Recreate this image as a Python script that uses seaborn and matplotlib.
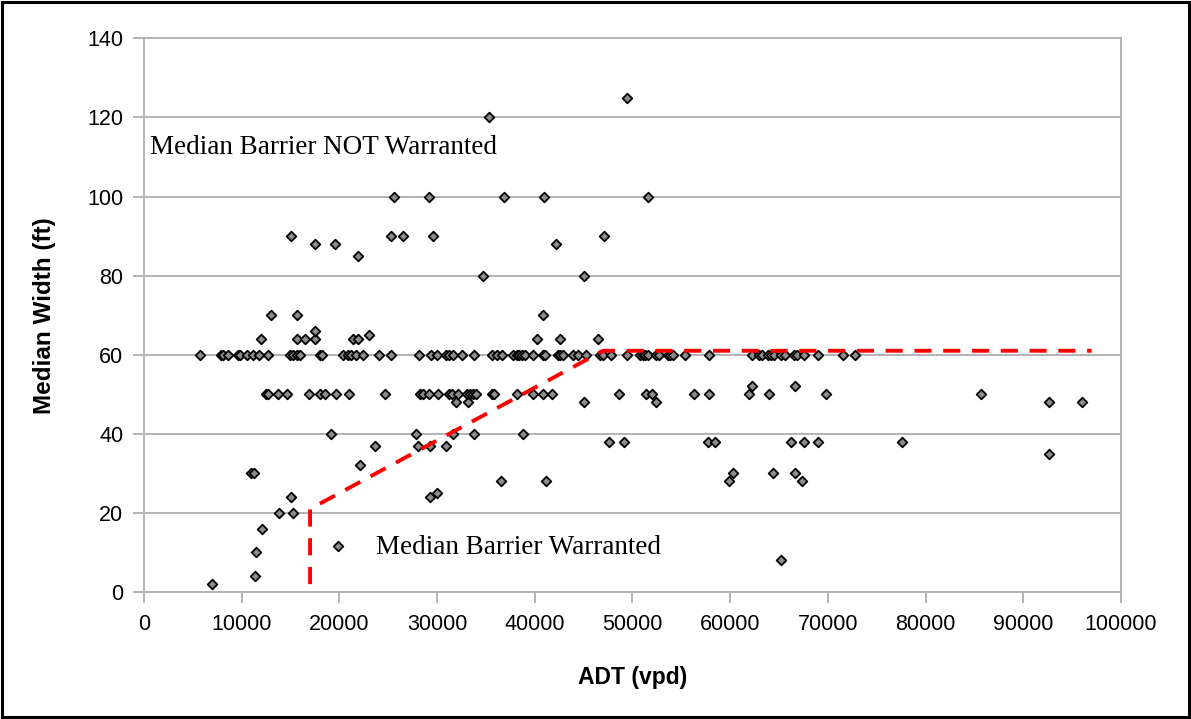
import matplotlib
matplotlib.use("Agg")
import matplotlib.pyplot as plt
from matplotlib.patches import Rectangle
import seaborn as sns
import pandas as pd

# ADT (vpd) and median width (ft) for each surveyed site, grouped by width
adt_w2 = [7000]
adt_w4 = [11400]
adt_w8 = [65200]
adt_w10 = [11500]
adt_w16 = [12050]
adt_w20 = [13850, 15300]
adt_w24 = [15050, 29250]
adt_w25 = [29950]
adt_w28 = [36500, 41150, 59900, 67400]
adt_w30 = [11000, 11300, 60300, 64400, 66600]
adt_w32 = [22100]
adt_w35 = [92650]
adt_w37 = [23650, 28000, 29250, 30900]
adt_w38 = [47600, 49150, 57750, 58450, 66200, 67550, 69000, 77600]
adt_w40 = [19100, 27850, 31650, 33800, 38800]
adt_w48 = [31950, 33200, 45050, 52450, 92650, 96050]
adt_w50 = [12500, 12700, 13750, 14650, 16900, 18000, 18550, 19700, 21000,
           24650, 28300, 28550, 29200, 30100, 31200, 31550, 32150, 33050,
           33350, 33700, 34000, 35650, 35800, 38150, 39800, 40800, 41750,
           48650, 51400, 51950, 56300, 57850, 61900, 63950, 69850, 85650]
adt_w52 = [62250, 66650]
adt_w60 = [5750, 7900, 8100, 8550, 9650, 9850, 10500, 11200, 11800, 12700,
           14950, 15300, 15700, 15950, 18000, 18200, 20400, 20900, 21150,
           21750, 22450, 24100, 25250, 28100, 29350, 29950, 30900, 31250,
           31600, 32600, 33800, 35600, 36100, 36600, 37800, 38150, 38400,
           38650, 39000, 39800, 40850, 41050, 42400, 42600, 42900, 43900,
           44450, 45250, 46650, 47000, 47850, 49450, 50750, 51050, 51300,
           51600, 52450, 52750, 53650, 53850, 54100, 55350, 57850, 62200,
           63000, 63300, 63900, 64150, 64500, 65250, 65600, 66550, 66800,
           67550, 69000, 71500, 72800]
adt_w64 = [11950, 15700, 16500, 17550, 21350, 21950, 40200, 42600, 46500]
adt_w65 = [23050]
adt_w66 = [17550]
adt_w70 = [13050, 15700, 40800]
adt_w80 = [34650, 45050]
adt_w85 = [21950]
adt_w88 = [17550, 19600, 42150]
adt_w90 = [15050, 25300, 26500, 29600, 47100]
adt_w100 = [25600, 29200, 36900, 40900, 51600]
adt_w120 = [35300]
adt_w125 = [49450]

groups = {
    2: adt_w2, 4: adt_w4, 8: adt_w8, 10: adt_w10, 16: adt_w16, 20: adt_w20,
    24: adt_w24, 25: adt_w25, 28: adt_w28, 30: adt_w30, 32: adt_w32,
    35: adt_w35, 37: adt_w37, 38: adt_w38, 40: adt_w40, 48: adt_w48,
    50: adt_w50, 52: adt_w52, 60: adt_w60, 64: adt_w64, 65: adt_w65,
    66: adt_w66, 70: adt_w70, 80: adt_w80, 85: adt_w85, 88: adt_w88,
    90: adt_w90, 100: adt_w100, 120: adt_w120, 125: adt_w125,
}
sites = pd.DataFrame(
    [(adt, width) for width, adts in groups.items() for adt in adts],
    columns=["ADT", "Width"],
)

# Warrant boundary
boundary_adt = [17000, 17000, 47000, 97000]
boundary_width = [2, 21, 61, 61]

x_ticks = [0, 10000, 20000, 30000, 40000, 50000, 60000, 70000, 80000, 90000, 100000]
y_ticks = [0, 20, 40, 60, 80, 100, 120, 140]

sns.set_style("white")
plt.rcParams["font.family"] = ["Liberation Sans", "DejaVu Sans"]
plt.rcParams["text.color"] = "black"
plt.rcParams["axes.labelcolor"] = "black"

GRID = "#b3b3b3"
fig = plt.figure(figsize=(11.91, 7.19), dpi=100)
ax = fig.add_axes([0.1209, 0.1766, 0.8203, 0.7701])

ax.set_xlim(0, 100000)
ax.set_ylim(0, 140)
ax.set_xticks(x_ticks)
ax.set_yticks(y_ticks)
ax.set_xticklabels([str(t) for t in x_ticks])
ax.set_yticklabels([str(t) for t in y_ticks])
ax.yaxis.grid(True, color=GRID, linewidth=1.4)
ax.xaxis.grid(False)
ax.set_axisbelow(True)
for side in ["left", "right", "bottom", "top"]:
    ax.spines[side].set_color(GRID)
    ax.spines[side].set_linewidth(1.4)
ax.tick_params(axis="both", direction="out", length=8, width=1.4, color=GRID,
               labelsize=15.5, labelcolor="black")
ax.tick_params(axis="x", pad=8, bottom=True)
ax.tick_params(axis="y", pad=7, left=True)

sns.scatterplot(data=sites, x="ADT", y="Width", marker="D", s=24,
                color="#8c8c8c", edgecolor="black", linewidth=1.3,
                label="Median Barrier Warranted", ax=ax, zorder=3)

sns.lineplot(x=boundary_adt, y=boundary_width, sort=False, estimator=None,
             color="#ff0000", linewidth=2.8, ax=ax, zorder=4, legend=False)
ax.lines[-1].set_dashes((4.4, 3.0))

ax.set_xlabel("ADT (vpd)", fontsize=16.5, fontweight="bold", labelpad=22)
ax.set_ylabel("Median Width (ft)", fontsize=17.5, fontweight="bold", labelpad=22)

serif = {"family": ["Liberation Serif", "DejaVu Serif"], "size": 19.5}
ax.text(600, 112.3, "Median Barrier NOT Warranted", ha="left", va="center",
        fontdict=serif, color="black")

leg = ax.legend(loc="center left", bbox_to_anchor=(0.1847, 0.0813), frameon=False,
                prop=serif, borderpad=0, borderaxespad=0, handlelength=1.0,
                handletextpad=0.9)
for t in leg.get_texts():
    t.set_color("black")

fig.patches.append(Rectangle((0.002, 0.003), 0.996, 0.994, transform=fig.transFigure,
                             fill=False, edgecolor="black", linewidth=2.2))

fig.savefig("out.png", dpi=100, facecolor="white")
